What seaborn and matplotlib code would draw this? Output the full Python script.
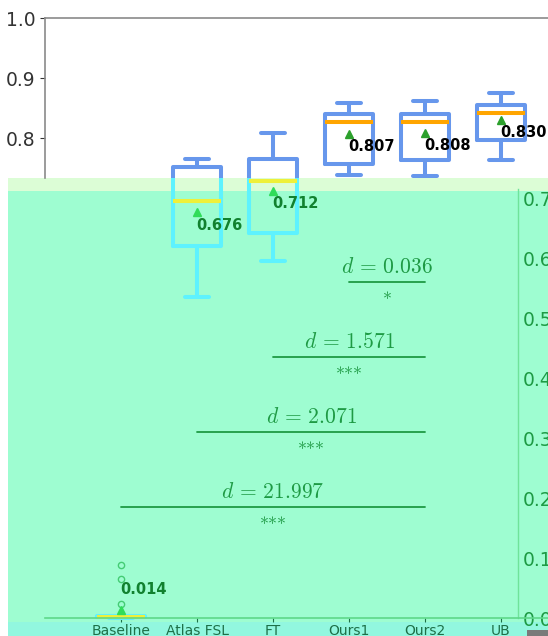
import numpy as np
import pandas as pd
import matplotlib
matplotlib.use("Agg")
import matplotlib.pyplot as plt
from matplotlib.patches import Rectangle
import seaborn as sns

# ---- data -------------------------------------------------------------
methods = ["Baseline", "Atlas FSL", "FT", "Ours1", "Ours2", "UB"]

baseline = [0.000, 0.000, 0.001, 0.001, 0.001, 0.002, 0.002,
            0.003, 0.003, 0.003, 0.004, 0.023, 0.065, 0.088]
atlas_fsl = [0.535, 0.580, 0.620, 0.655, 0.695, 0.722, 0.752, 0.760, 0.765]
ft = [0.595, 0.620, 0.642, 0.700, 0.728, 0.750, 0.765, 0.800, 0.808]
ours1 = [0.738, 0.748, 0.757, 0.805, 0.826, 0.835, 0.840, 0.856, 0.858]
ours2 = [0.737, 0.752, 0.764, 0.800, 0.827, 0.835, 0.840, 0.856, 0.861]
ub = [0.763, 0.785, 0.797, 0.830, 0.842, 0.852, 0.855, 0.871, 0.875]

# pairwise comparisons against Ours2: effect size and significance stars
pair_left = ["Ours1", "FT", "Atlas FSL", "Baseline"]
pair_right = ["Ours2", "Ours2", "Ours2", "Ours2"]
effect_d = [0.036, 1.571, 2.071, 21.997]
signif = ["*", "***", "***", "***"]
bar_y = [0.56, 0.435, 0.31, 0.185]

yticks = [0.0, 0.1, 0.2, 0.3, 0.4, 0.5, 0.6, 0.7, 0.8, 0.9, 1.0]

scores = [baseline, atlas_fsl, ft, ours1, ours2, ub]
df = pd.DataFrame({
    "method": np.repeat(methods, [len(s) for s in scores]),
    "score": np.concatenate(scores),
})

# ---- style ------------------------------------------------------------
sns.set_style("ticks")
plt.rcParams["font.family"] = ["DejaVu Sans"]
plt.rcParams["mathtext.fontset"] = "cm"

BLUE = "#6797ec"
ORANGE = "#ffa500"
MEAN_C = "#2ca02c"
CYAN = "#5ef2fe"
YELLOW = "#eef03a"
MEAN_LOW = "#30dc5a"
FLIER_LOW = "#44cc74"
TEXT_LOW = "#11812f"
STAT_C = "#1e9a44"
TICK_LOW = "#1d7048"
MINT = "#9efdd1"
PALE = "#dcfdd6"
AQUA = "#92f7df"

W, H = 548, 636
fig = plt.figure(figsize=(W / 100, H / 100), dpi=100)
fig.patch.set_facecolor("white")

# tinted lower band behind the axes
for (x0, y0, x1, y1, c) in [(8, 191, W, 622, MINT),
                            (8, 178, W, 191, PALE),
                            (8, 622, W, H, AQUA),
                            (527, 630, W, H, "#7a7a7a")]:
    fig.patches.append(Rectangle((x0 / W, 1 - y1 / H), (x1 - x0) / W, (y1 - y0) / H,
                                 transform=fig.transFigure, facecolor=c,
                                 edgecolor="none", zorder=-5))

ax = fig.add_axes([45 / W, 1 - 618 / H, 532 / W, 600 / H])
ax.patch.set_alpha(0)

SPLIT = 0.733


def draw_boxes(line_c, med_c, mean_c, flier_c, clip):
    before = set(ax.get_children())
    sns.boxplot(data=df, x="method", y="score", order=methods, ax=ax,
                fill=False, color=line_c, width=0.62, linewidth=2.9,
                medianprops={"color": med_c, "linewidth": 2.9},
                showmeans=True,
                meanprops={"marker": "^", "markerfacecolor": mean_c,
                           "markeredgecolor": mean_c, "markersize": 5.5},
                flierprops={"marker": "o", "markerfacecolor": "none",
                            "markeredgecolor": flier_c, "markersize": 4.5,
                            "markeredgewidth": 1.0})
    for a in ax.get_children():
        if a not in before:
            a.set_clip_path(clip)


upper = Rectangle((-1, SPLIT), 7, 1.0, transform=ax.transData)
lower = Rectangle((-1, -0.5), 7, SPLIT + 0.5, transform=ax.transData)
draw_boxes(BLUE, ORANGE, MEAN_C, "#555555", upper)
draw_boxes(CYAN, YELLOW, MEAN_LOW, FLIER_LOW, lower)

ax.set_xlim(-1, 6)
ax.set_ylim(0, 1.0)
ax.set_xlabel("")
ax.set_ylabel("")

# mean value labels
for i, s in enumerate(scores):
    m = float(np.mean(s))
    ty = max(m - 0.021, 0.048)
    ax.text(i - 0.01, ty, f"{m:.3f}", ha="left", va="center",
            fontsize=10.5, fontweight="bold",
            color="black" if m > 0.76 else TEXT_LOW, zorder=6)

# significance bars
for a, b, d, st, y in zip(pair_left, pair_right, effect_d, signif, bar_y):
    i, j = methods.index(a), methods.index(b)
    ax.plot([i, j], [y, y], color=STAT_C, linewidth=1.3, zorder=5)
    ax.annotate(rf"$d\,=\,{d:.3f}$", xy=((i + j) / 2, y), xytext=(0, 10.5),
                textcoords="offset points", ha="center", va="center",
                fontsize=15.5, color=STAT_C)
    ax.annotate(st, xy=((i + j) / 2, y), xytext=(0, -13),
                textcoords="offset points", ha="center", va="center",
                fontsize=13, color=STAT_C, family="cmr10")

# axes decoration
ax.set_xticks(range(len(methods)))
ax.set_xticklabels(methods)
ax.tick_params(axis="x", labelsize=10, length=3, pad=1, colors=TICK_LOW)
ax.set_yticks(yticks)
ax.set_yticklabels([f"{t:.1f}" if t > 0.75 else "" for t in yticks])
ax.tick_params(axis="y", labelsize=13.5, colors="#333333")
for t, tl in zip(ax.yaxis.get_major_ticks(), yticks):
    if tl < 0.75:
        t.tick1line.set_visible(False)
ax.spines["top"].set_color("#8a8a8a")
ax.spines["left"].set_color("#8a8a8a")
ax.spines["left"].set_bounds(SPLIT, 1.0)
ax.spines["bottom"].set_color("#5ed88a")
ax.spines["right"].set_visible(False)
for sp in ("top", "left", "bottom"):
    ax.spines[sp].set_linewidth(1.2)

# lower scale read on the right-hand rule
sec = ax.secondary_yaxis(0.89)
low_ticks = [t for t in yticks if t < 0.75]
sec.set_yticks(low_ticks)
sec.set_yticklabels([f"{t:.1f}" for t in low_ticks])
sec.tick_params(length=0, pad=3, labelsize=13.5, labelcolor=STAT_C)
for sp in sec.spines.values():
    sp.set_color("#6fe39a")
    sp.set_linewidth(1.0)
    sp.set_bounds(0, 0.715)

fig.savefig("out.png", dpi=100)
